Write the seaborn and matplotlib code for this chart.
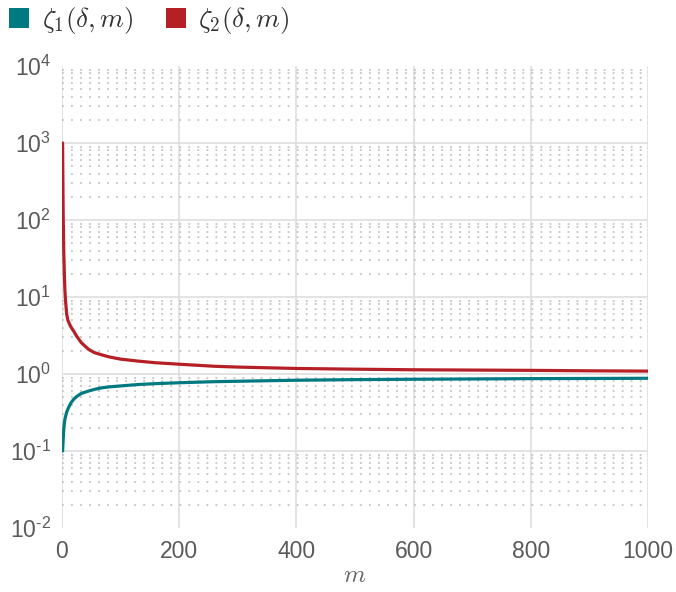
import numpy as np
import pandas as pd
import matplotlib
matplotlib.use("Agg")
import matplotlib.pyplot as plt
import seaborn as sns
from matplotlib.patches import Patch
from matplotlib.ticker import FixedLocator, NullFormatter

# ---- data ----
m_vals = [1, 2, 3, 4, 5, 6, 8, 10, 13, 16, 20, 25, 33, 45, 55, 67, 80, 100,
          130, 160, 200, 260, 300, 400, 500, 600, 700, 800, 900, 1000]
zeta1 = [0.10, 0.14, 0.19, 0.23, 0.26, 0.28, 0.32, 0.35, 0.39, 0.43, 0.47,
         0.51, 0.56, 0.60, 0.63, 0.66, 0.68, 0.70, 0.73, 0.75, 0.77, 0.795,
         0.805, 0.83, 0.845, 0.855, 0.862, 0.87, 0.875, 0.88]
zeta2 = [1000, 120, 40, 20, 12, 9, 6, 5, 4.4, 4.0, 3.6, 3.1, 2.55, 2.1, 1.9,
         1.78, 1.67, 1.56, 1.47, 1.40, 1.34, 1.26, 1.23, 1.18, 1.155, 1.135,
         1.125, 1.115, 1.10, 1.09]
series_names = [r"$\zeta_1(\delta,m)$", r"$\zeta_2(\delta,m)$"]
colors = ["#007a80", "#b52027"]
x_ticks = [0, 200, 400, 600, 800, 1000]
y_exps = [-2, -1, 0, 1, 2, 3, 4]

df = pd.DataFrame({
    "m": m_vals * 2,
    "value": zeta1 + zeta2,
    "series": [series_names[0]] * len(m_vals) + [series_names[1]] * len(m_vals),
})

sns.set_style("white")
plt.rcParams["font.family"] = ["Liberation Sans", "DejaVu Sans"]
plt.rcParams["mathtext.fontset"] = "custom"
plt.rcParams["mathtext.rm"] = "Liberation Sans"
plt.rcParams["mathtext.it"] = "Liberation Sans:italic"

fig = plt.figure(figsize=(6.76, 5.92), dpi=100)
ax = fig.add_axes([62 / 676, 1 - 528 / 592, (648 - 62) / 676, (528 - 66) / 592])

sns.lineplot(data=df, x="m", y="value", hue="series", palette=colors,
             hue_order=series_names, linewidth=2.3, ax=ax, legend=False,
             zorder=5)

ax.set_yscale("log")
ax.set_xlim(0, 1000)
ax.set_ylim(1e-2, 1e4)

# ticks and grids
ax.set_xticks(x_ticks)
ax.set_xticklabels([str(t) for t in x_ticks])
ax.set_yticks([10.0 ** e for e in y_exps])
ax.set_yticklabels([r"$\mathrm{10}^{\text{%d}}$" % e for e in y_exps])
minor = [k * 10.0 ** e for e in y_exps[:-1] for k in range(2, 10)]
ax.yaxis.set_minor_locator(FixedLocator(minor))
ax.yaxis.set_minor_formatter(NullFormatter())
ax.grid(True, which="major", axis="both", color="#dedede", linewidth=1.2)
ax.grid(True, which="minor", axis="y", color="#c4c4c4", linewidth=1.3,
        linestyle=(0, (1, 4)))
ylines = ax.get_ygridlines()
ylines[0].set_visible(False)
ylines[-1].set_visible(False)
ax.set_axisbelow(True)

for s in ax.spines.values():
    s.set_visible(False)
ax.tick_params(axis="both", which="both", length=0, labelsize=16.5,
               labelcolor="#5a5a5a")
ax.tick_params(axis="x", pad=9)
ax.tick_params(axis="y", pad=8)

ax.set_xlabel(r"$m$", fontsize=18, color="#666666", math_fontfamily="cm",
              labelpad=0)
ax.set_ylabel("")

handles = [Patch(facecolor=c, edgecolor="none") for c in colors]
leg = fig.legend(handles, series_names, loc="upper left",
                 bbox_to_anchor=(4 / 676, 1 - 0 / 592), ncol=2, frameon=False,
                 handlelength=0.74, handleheight=0.74, handletextpad=0.45,
                 columnspacing=1.2, borderaxespad=0.0, borderpad=0.2,
                 prop={"size": 19.5, "math_fontfamily": "cm"})
for t in leg.get_texts():
    t.set_color("#333333")

fig.savefig("out.png", dpi=100)
